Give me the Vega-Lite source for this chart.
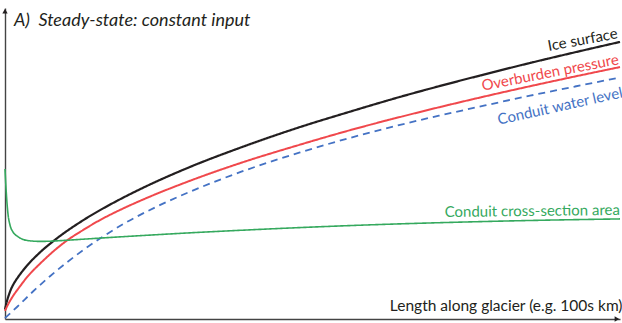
{
  "$schema": "https://vega.github.io/schema/vega-lite/v6.json",
  "autosize": "none",
  "width": 615,
  "height": 311,
  "padding": {"left": 5, "top": 8, "right": 2, "bottom": 4},
  "background": "white",
  "datasets": {
    "curves": [
      {"series": "Ice surface", "x": 0, "y": 3.0},
      {"series": "Ice surface", "x": 0.16, "y": 4.5},
      {"series": "Ice surface", "x": 0.33, "y": 5.8},
      {"series": "Ice surface", "x": 0.65, "y": 7.8},
      {"series": "Ice surface", "x": 1.0, "y": 9.6},
      {"series": "Ice surface", "x": 1.3, "y": 10.8},
      {"series": "Ice surface", "x": 2.0, "y": 13.0},
      {"series": "Ice surface", "x": 2.44, "y": 14.2},
      {"series": "Ice surface", "x": 3.58, "y": 17.0},
      {"series": "Ice surface", "x": 5.69, "y": 21.2},
      {"series": "Ice surface", "x": 8.46, "y": 25.7},
      {"series": "Ice surface", "x": 12.68, "y": 31.4},
      {"series": "Ice surface", "x": 18.21, "y": 37.6},
      {"series": "Ice surface", "x": 21.95, "y": 41.3},
      {"series": "Ice surface", "x": 30.08, "y": 48.4},
      {"series": "Ice surface", "x": 38.21, "y": 54.5},
      {"series": "Ice surface", "x": 47.97, "y": 61.1},
      {"series": "Ice surface", "x": 56.1, "y": 66.0},
      {"series": "Ice surface", "x": 64.23, "y": 70.7},
      {"series": "Ice surface", "x": 70.57, "y": 74.1},
      {"series": "Ice surface", "x": 77.24, "y": 77.5},
      {"series": "Ice surface", "x": 85.37, "y": 81.5},
      {"series": "Ice surface", "x": 92.68, "y": 84.9},
      {"series": "Ice surface", "x": 100, "y": 88.2},
      {"series": "Overburden pressure", "x": 0, "y": 2.6},
      {"series": "Overburden pressure", "x": 0.33, "y": 4.0},
      {"series": "Overburden pressure", "x": 0.65, "y": 5.2},
      {"series": "Overburden pressure", "x": 1.3, "y": 7.3},
      {"series": "Overburden pressure", "x": 2.44, "y": 10.4},
      {"series": "Overburden pressure", "x": 3.58, "y": 13.3},
      {"series": "Overburden pressure", "x": 4.55, "y": 15.4},
      {"series": "Overburden pressure", "x": 5.69, "y": 17.6},
      {"series": "Overburden pressure", "x": 7.32, "y": 20.6},
      {"series": "Overburden pressure", "x": 10.08, "y": 25.0},
      {"series": "Overburden pressure", "x": 12.68, "y": 28.3},
      {"series": "Overburden pressure", "x": 15.45, "y": 31.5},
      {"series": "Overburden pressure", "x": 18.37, "y": 34.4},
      {"series": "Overburden pressure", "x": 21.95, "y": 37.6},
      {"series": "Overburden pressure", "x": 30.08, "y": 44.0},
      {"series": "Overburden pressure", "x": 38.21, "y": 49.6},
      {"series": "Overburden pressure", "x": 47.97, "y": 55.5},
      {"series": "Overburden pressure", "x": 56.1, "y": 60.1},
      {"series": "Overburden pressure", "x": 64.23, "y": 64.3},
      {"series": "Overburden pressure", "x": 70.57, "y": 67.4},
      {"series": "Overburden pressure", "x": 77.24, "y": 70.5},
      {"series": "Overburden pressure", "x": 85.37, "y": 74.1},
      {"series": "Overburden pressure", "x": 92.68, "y": 77.2},
      {"series": "Overburden pressure", "x": 100, "y": 80.2},
      {"series": "Conduit water level", "x": 0, "y": 0.3},
      {"series": "Conduit water level", "x": 1.95, "y": 3.82},
      {"series": "Conduit water level", "x": 4.55, "y": 8.75},
      {"series": "Conduit water level", "x": 7.32, "y": 13.62},
      {"series": "Conduit water level", "x": 10.08, "y": 18.05},
      {"series": "Conduit water level", "x": 15.45, "y": 25.63},
      {"series": "Conduit water level", "x": 19.19, "y": 30.18},
      {"series": "Conduit water level", "x": 24.72, "y": 35.81},
      {"series": "Conduit water level", "x": 30.08, "y": 40.52},
      {"series": "Conduit water level", "x": 38.21, "y": 46.73},
      {"series": "Conduit water level", "x": 47.97, "y": 53.03},
      {"series": "Conduit water level", "x": 56.1, "y": 57.65},
      {"series": "Conduit water level", "x": 64.23, "y": 61.79},
      {"series": "Conduit water level", "x": 70.57, "y": 64.72},
      {"series": "Conduit water level", "x": 78.05, "y": 67.99},
      {"series": "Conduit water level", "x": 85.37, "y": 71.08},
      {"series": "Conduit water level", "x": 92.68, "y": 74.01},
      {"series": "Conduit water level", "x": 100, "y": 76.88},
      {"series": "Conduit cross-section area", "x": 0, "y": 47.75},
      {"series": "Conduit cross-section area", "x": 0.163, "y": 41.7},
      {"series": "Conduit cross-section area", "x": 0.325, "y": 36.93},
      {"series": "Conduit cross-section area", "x": 0.488, "y": 33.42},
      {"series": "Conduit cross-section area", "x": 0.813, "y": 29.92},
      {"series": "Conduit cross-section area", "x": 1.3, "y": 27.69},
      {"series": "Conduit cross-section area", "x": 1.95, "y": 26.42},
      {"series": "Conduit cross-section area", "x": 2.76, "y": 25.47},
      {"series": "Conduit cross-section area", "x": 4.07, "y": 24.89},
      {"series": "Conduit cross-section area", "x": 5.69, "y": 24.7},
      {"series": "Conduit cross-section area", "x": 7.32, "y": 24.77},
      {"series": "Conduit cross-section area", "x": 9.76, "y": 25.03},
      {"series": "Conduit cross-section area", "x": 12.68, "y": 25.4},
      {"series": "Conduit cross-section area", "x": 15.45, "y": 25.75},
      {"series": "Conduit cross-section area", "x": 23.58, "y": 26.71},
      {"series": "Conduit cross-section area", "x": 31.71, "y": 27.6},
      {"series": "Conduit cross-section area", "x": 38.21, "y": 28.23},
      {"series": "Conduit cross-section area", "x": 49.76, "y": 29.25},
      {"series": "Conduit cross-section area", "x": 60.98, "y": 30.08},
      {"series": "Conduit cross-section area", "x": 72.36, "y": 30.75},
      {"series": "Conduit cross-section area", "x": 85.37, "y": 31.36},
      {"series": "Conduit cross-section area", "x": 100, "y": 31.86}
    ]
  },
  "encoding": {
    "x": {
      "field": "x",
      "type": "quantitative",
      "scale": {"domain": [0, 100], "nice": false, "zero": false},
      "axis": {
        "domain": true,
        "domainColor": "#444444",
        "domainWidth": 1.4,
        "ticks": false,
        "labels": false,
        "grid": false,
        "title": "Length along glacier (e.g. 100s km)",
        "titleX": 617,
        "titleY": -9,
        "titleAlign": "right",
        "titleBaseline": "alphabetic",
        "titleFont": "Lato",
        "titleFontWeight": "normal",
        "titleFontSize": 15.5,
        "titleColor": "#231f20"
      }
    },
    "y": {
      "field": "y",
      "type": "quantitative",
      "scale": {"domain": [0, 99], "nice": false, "zero": false},
      "axis": {
        "domain": true,
        "domainColor": "#444444",
        "domainWidth": 1.4,
        "ticks": false,
        "labels": false,
        "grid": false,
        "title": null
      }
    }
  },
  "layer": [
    {
      "data": {"name": "curves"},
      "mark": {"type": "line", "clip": false, "interpolate": "monotone"},
      "encoding": {
        "detail": {"field": "series"},
        "color": {
          "field": "series",
          "type": "nominal",
          "scale": {
            "domain": ["Ice surface", "Overburden pressure", "Conduit water level", "Conduit cross-section area"],
            "range": ["#231f20", "#f0484c", "#4472c4", "#35a95e"]
          },
          "legend": null
        },
        "strokeDash": {
          "field": "series",
          "type": "nominal",
          "scale": {
            "domain": ["Ice surface", "Overburden pressure", "Conduit water level", "Conduit cross-section area"],
            "range": [[1, 0], [1, 0], [7, 5], [1, 0]]
          },
          "legend": null
        },
        "strokeWidth": {
          "field": "series",
          "type": "nominal",
          "scale": {
            "domain": ["Ice surface", "Overburden pressure", "Conduit water level", "Conduit cross-section area"],
            "range": [2.2, 1.6, 2.6, 1.8]
          },
          "legend": null
        }
      }
    },
    {
      "data": {"name": "curves"},
      "transform": [{"filter": "datum.x == 100 && datum.series == 'Ice surface'"}],
      "mark": {"type": "text", "align": "right", "baseline": "alphabetic", "dx": -1, "dy": -4, "angle": -10.5, "font": "Lato", "fontSize": 15, "color": "#231f20"},
      "encoding": {"text": {"field": "series"}}
    },
    {
      "data": {"name": "curves"},
      "transform": [{"filter": "datum.x == 100 && datum.series == 'Overburden pressure'"}],
      "mark": {"type": "text", "align": "right", "baseline": "alphabetic", "dx": 0, "dy": -3, "angle": -11, "font": "Lato", "fontSize": 15, "color": "#f0484c"},
      "encoding": {"text": {"field": "series"}}
    },
    {
      "data": {"name": "curves"},
      "transform": [{"filter": "datum.x == 100 && datum.series == 'Conduit water level'"}],
      "mark": {"type": "text", "align": "right", "baseline": "alphabetic", "dx": -1, "dy": 20, "angle": -12.5, "font": "Lato", "fontSize": 15, "color": "#4472c4"},
      "encoding": {"text": {"field": "series"}}
    },
    {
      "data": {"name": "curves"},
      "transform": [{"filter": "datum.x == 100 && datum.series == 'Conduit cross-section area'"}],
      "mark": {"type": "text", "align": "right", "baseline": "alphabetic", "dx": 0, "dy": -4, "angle": -0.7, "font": "Lato", "fontSize": 15, "color": "#35a95e"},
      "encoding": {"text": {"field": "series"}}
    },
    {
      "data": {"values": [{"label": "A)\u00a0 Steady-state: constant input", "x": 1.46, "y": 93.4}]},
      "mark": {"type": "text", "align": "left", "baseline": "alphabetic", "font": "Lato", "fontStyle": "italic", "fontSize": 18, "color": "#231f20", "clip": false},
      "encoding": {"text": {"field": "label"}}
    },
    {
      "data": {"values": [{"x": 99.5, "y": 0}]},
      "mark": {"type": "point", "shape": "triangle-right", "filled": true, "size": 28, "color": "#231f20", "opacity": 1, "clip": false},
      "encoding": {}
    },
    {
      "data": {"values": [{"x": 0, "y": 98.0}]},
      "mark": {"type": "point", "shape": "triangle-up", "filled": true, "size": 28, "color": "#231f20", "opacity": 1, "clip": false},
      "encoding": {}
    }
  ],
  "config": {
    "view": {"stroke": null}
  }
}
